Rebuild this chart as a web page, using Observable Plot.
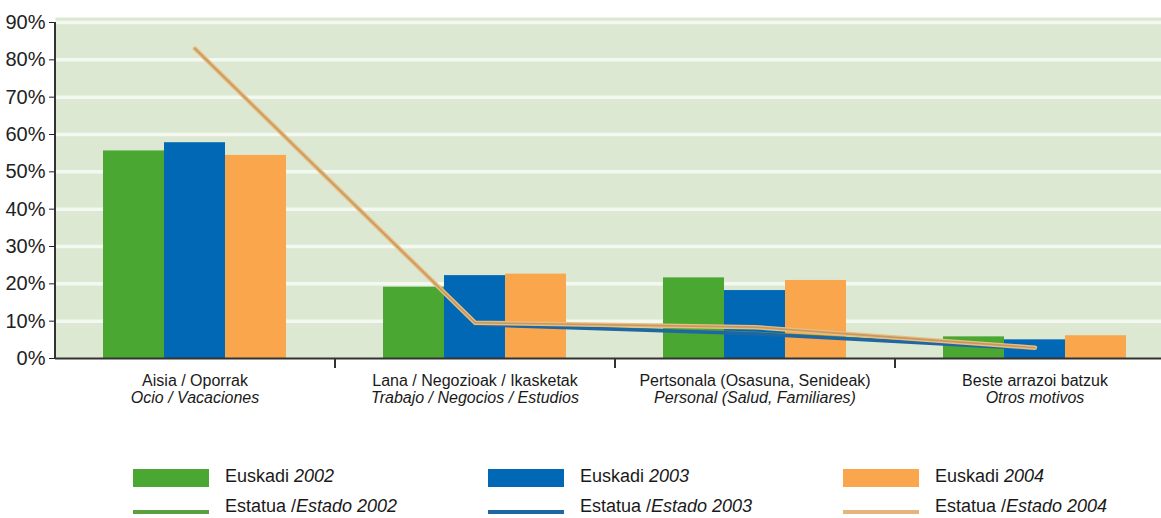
<!DOCTYPE html>
<html>
<head>
<meta charset="utf-8">
<script src="https://cdn.jsdelivr.net/npm/d3@7"></script>
<script src="https://cdn.jsdelivr.net/npm/@observablehq/plot@0.6"></script>
<style>
  body { margin: 0; background: #fff; overflow: hidden; font-family: "Liberation Sans", sans-serif; }
  #chart { width: 1161px; height: 420px; }
  #legend { position: relative; width: 1161px; height: 98px; }
  .item { position: absolute; height: 18px; display: flex; align-items: center; font-size: 18px; color: #1a1a1a; white-space: nowrap; }
  .item span { position: relative; top: -2px; }
  .sw { position: relative; width: 76px; height: 18px; margin-right: 16px; flex: none; }
  .sw .ln { position: absolute; left: 0; right: 0; top: 11px; height: 4px; }
</style>
</head>
<body>
<div id="chart"></div>
<div id="legend"></div>
<script>
// ---- data ----
const categoriesEu = ["Aisia / Oporrak", "Lana / Negozioak / Ikasketak", "Pertsonala (Osasuna, Senideak)", "Beste arrazoi batzuk"];
const categoriesEs = ["Ocio / Vacaciones", "Trabajo / Negocios / Estudios", "Personal (Salud, Familiares)", "Otros motivos"];
const years = ["2002", "2003", "2004"];
const euskadi2002 = [55.6, 19.1, 21.6, 5.8];
const euskadi2003 = [57.8, 22.2, 18.2, 5.0];
const euskadi2004 = [54.4, 22.6, 20.9, 6.1];
const estado2002 = [null, 9.2, 6.8, 2.7];
const estado2003 = [null, 9.1, 6.6, 2.6];
const estado2004 = [83.0, 9.6, 8.4, 2.9];
const yTicks = [0, 10, 20, 30, 40, 50, 60, 70, 80, 90];
const barColors = ["#4aa832", "#0068b4", "#f9a64c"];
const lineColors = ["#5e9e42", "#1f66a3", "#e9bc80"];

const toRows = (vals) => categoriesEu.map((c, i) => ({cat: c, value: vals[i]}));
const barSeries = [euskadi2002, euskadi2003, euskadi2004].map(toRows);
const lineSeries = [estado2002, estado2003, estado2004].map(toRows);
const esRows = categoriesEu.map((c, i) => ({cat: c, t: categoriesEs[i]}));

const barOffsets = [-61, 0, 61];

const plot = Plot.plot({
  width: 1161,
  height: 420,
  marginLeft: 55,
  marginRight: 0,
  marginTop: 22,
  marginBottom: 62,
  style: {fontFamily: "'Liberation Sans', sans-serif", fontSize: "20px", color: "#222", background: "transparent"},
  x: {domain: categoriesEu, range: [55, 1175], paddingInner: 0.782, paddingOuter: 0.391, axis: null},
  y: {domain: [0, 90], ticks: yTicks, tickFormat: d => d + "%", tickSize: 6, tickPadding: 4, label: null},
  marks: [
    Plot.frame({fill: "#dce8d2", stroke: "none", insetTop: -5}),
    Plot.ruleY(yTicks.slice(1), {stroke: "#f3f8f0", strokeWidth: 3.5}),
    ...barSeries.map((rows, k) => Plot.barY(rows, {x: "cat", y: "value", fill: barColors[k], dx: barOffsets[k]})),
    Plot.line(lineSeries[0], {x: "cat", y: "value", stroke: lineColors[0], strokeWidth: 3}),
    Plot.line(lineSeries[1], {x: "cat", y: "value", stroke: lineColors[1], strokeWidth: 3.5}),
    Plot.line(lineSeries[2], {x: "cat", y: "value", stroke: lineColors[2], strokeWidth: 4.5}),
    Plot.line(lineSeries[2], {x: "cat", y: "value", stroke: "#c49a62", strokeWidth: 1.6}),
    Plot.ruleY([0], {stroke: "#333", strokeWidth: 2}),
    Plot.ruleX([categoriesEu[0]], {dx: -140, stroke: "#333", strokeWidth: 2}),
    Plot.ruleX(categoriesEu.slice(0, 3), {dx: 140, y1: 0, y2: 0, insetBottom: -10, stroke: "#333", strokeWidth: 2}),
    Plot.text(categoriesEu, {x: d => d, text: d => d, frameAnchor: "bottom", dy: 27, fontSize: 16, fill: "#1a1a1a"}),
    Plot.text(esRows, {x: "cat", text: "t", frameAnchor: "bottom", dy: 44, fontSize: 16, fontStyle: "italic", fill: "#1a1a1a"})
  ]
});
document.getElementById("chart").appendChild(plot);

// ---- legend ----
const legend = document.getElementById("legend");
const colLefts = [133, 488, 843];
years.forEach((yr, k) => {
  const a = document.createElement("div");
  a.className = "item";
  a.style.left = colLefts[k] + "px";
  a.style.top = "49px";
  a.innerHTML = `<div class="sw" style="background:${barColors[k]}"></div><span>Euskadi <i>${yr}</i></span>`;
  legend.appendChild(a);
  const b = document.createElement("div");
  b.className = "item";
  b.style.left = colLefts[k] + "px";
  b.style.top = "79px";
  b.innerHTML = `<div class="sw"><div class="ln" style="background:${k === 2 ? "#e3b57a" : lineColors[k]}"></div></div><span>Estatua /<i>Estado ${yr}</i></span>`;
  legend.appendChild(b);
});
</script>
</body>
</html>
